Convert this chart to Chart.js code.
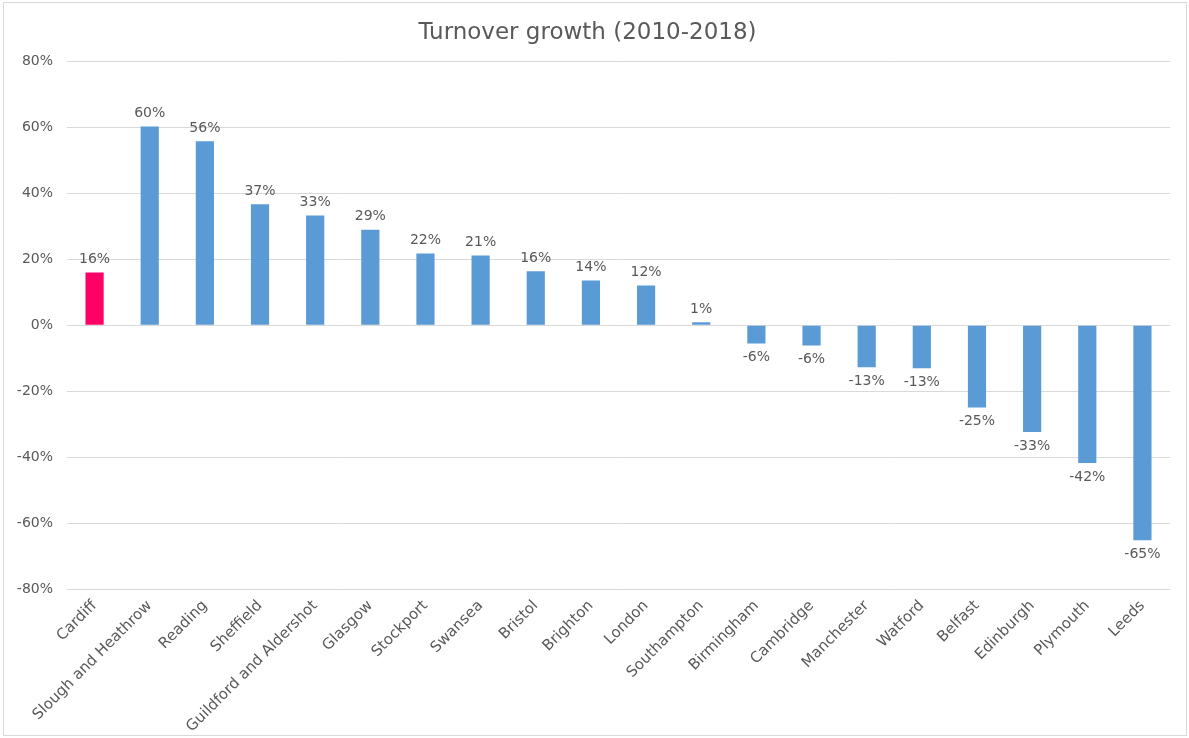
<!DOCTYPE html>
<html>
<head>
<meta charset="utf-8">
<script src="https://cdn.jsdelivr.net/npm/chart.js@4/dist/chart.umd.min.js"></script>
<style>
  html, body { margin: 0; padding: 0; background: #fff; }
  #wrap { width: 1189px; height: 738px; position: relative; }
</style>
</head>
<body>
<div id="wrap"><canvas id="chart" width="1189" height="738"></canvas></div>
<script>
// Données du graphique
const cities = [
    "Cardiff", "Slough and Heathrow", "Reading", "Sheffield", "Guildford and Aldershot",
    "Glasgow", "Stockport", "Swansea", "Bristol", "Brighton", "London", "Southampton",
    "Birmingham", "Cambridge", "Manchester", "Watford", "Belfast", "Edinburgh", "Plymouth", "Leeds"
];
const growth = [16, 60.3, 55.8, 36.7, 33.3, 29, 21.8, 21.2, 16.4, 13.6, 12.1, 0.9,
    -5.5, -6.1, -12.7, -13, -24.9, -32.4, -41.8, -65.2];
const labelValues = [16, 60, 56, 37, 33, 29, 22, 21, 16, 14, 12, 1, -6, -6, -13, -13, -25, -33, -42, -65];
const yTicks = [-80, -60, -40, -20, 0, 20, 40, 60, 80];

const fontFamily = "'DejaVu Sans', sans-serif";
const textColor = "#595959";

// Cadre gris autour du graphique
const framePlugin = {
    id: "frame",
    afterDraw(chart) {
        const ctx = chart.ctx;
        ctx.save();
        ctx.strokeStyle = "#d9d9d9";
        ctx.lineWidth = 1;
        ctx.strokeRect(3.5, 2.5, chart.width - 6, chart.height - 5);
        ctx.restore();
    }
};

// Étiquettes de valeurs au-dessus / en dessous des barres
const valueLabels = {
    id: "valueLabels",
    afterDatasetsDraw(chart) {
        const ctx = chart.ctx;
        const meta = chart.getDatasetMeta(0);
        ctx.save();
        ctx.font = "14px " + fontFamily;
        ctx.fillStyle = textColor;
        ctx.textAlign = "center";
        meta.data.forEach((bar, i) => {
            const v = labelValues[i];
            if (growth[i] >= 0) {
                ctx.textBaseline = "bottom";
                ctx.fillText(v + "%", bar.x, bar.y - 6);
            } else {
                ctx.textBaseline = "top";
                ctx.fillText(v + "%", bar.x, bar.y + 7);
            }
        });
        ctx.restore();
    }
};

const ctx = document.getElementById("chart").getContext("2d");
new Chart(ctx, {
    type: "bar",
    data: {
        labels: cities,
        datasets: [{
            data: growth,
            backgroundColor: cities.map((c, i) => i === 0 ? "#ff0066" : "#5b9bd5"),
            barPercentage: 0.33,
            categoryPercentage: 1.0
        }]
    },
    options: {
        responsive: false,
        animation: false,
        layout: { padding: { top: 4, left: 5, right: 19, bottom: 0 } },
        plugins: {
            legend: { display: false },
            tooltip: { enabled: false },
            title: {
                display: true,
                text: "Turnover growth (2010-2018)",
                color: textColor,
                font: { family: fontFamily, size: 23, weight: "normal" },
                padding: { top: 15, bottom: 15 }
            }
        },
        scales: {
            x: {
                grid: { display: false },
                border: { display: false },
                ticks: {
                    color: textColor,
                    font: { family: fontFamily, size: 15 },
                    minRotation: 45,
                    maxRotation: 45,
                    autoSkip: false,
                    padding: 0
                },
                afterFit(scale) { scale.height = 149; }
            },
            y: {
                min: -80,
                max: 80,
                afterBuildTicks(scale) { scale.ticks = yTicks.map(v => ({ value: v })); },
                grid: { color: "#d9d9d9", drawTicks: false },
                border: { display: false },
                ticks: {
                    color: textColor,
                    font: { family: fontFamily, size: 14 },
                    padding: 14,
                    callback: v => v + "%"
                },
                afterFit(scale) { scale.width = 62; }
            }
        }
    },
    plugins: [framePlugin, valueLabels]
});
</script>
</body>
</html>
